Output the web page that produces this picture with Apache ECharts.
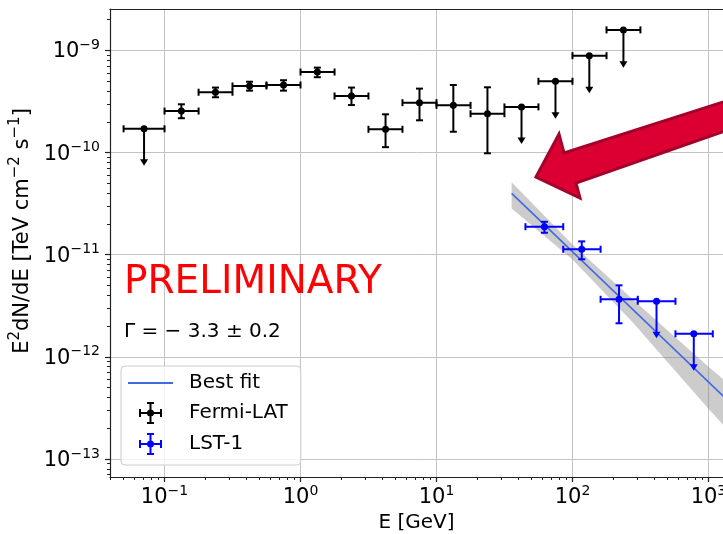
<!DOCTYPE html>
<html lang="en">
<head>
<meta charset="UTF-8">
<title>sed_lst1_fermi</title>
<script src="https://cdn.jsdelivr.net/npm/echarts@6/dist/echarts.min.js"></script>
<style>
    html, body { margin: 0; padding: 0; background: #fff; }
    #main { width: 723px; height: 534px; }
</style>
</head>
<body>
<div id="main"></div>
<script>
// ---- data (E in GeV, E^2 dN/dE in TeV cm^-2 s^-1) ----
var fermiE   = [0.0707, 0.133, 0.237, 0.422, 0.750, 1.33, 2.37, 4.22, 7.50, 13.3, 23.7, 42.2, 75.0, 133, 237];
var fermiElo = [0.05, 0.1, 0.178, 0.316, 0.562, 1.0, 1.78, 3.16, 5.62, 10, 17.8, 31.6, 56.2, 100, 178];
var fermiEhi = [0.1, 0.178, 0.316, 0.562, 1.0, 1.78, 3.16, 5.62, 10, 17.8, 31.6, 56.2, 100, 178, 316];
var fermiF   = [1.71e-10, 2.55e-10, 3.90e-10, 4.49e-10, 4.59e-10, 6.15e-10, 3.58e-10, 1.69e-10, 3.08e-10, 2.90e-10, 2.40e-10, 2.80e-10, 4.99e-10, 8.89e-10, 1.59e-9];
var fermiFlo = [7.45e-11, 2.17e-10, 3.48e-10, 4.04e-10, 4.04e-10, 5.47e-10, 2.92e-10, 1.13e-10, 2.07e-10, 1.60e-10, 9.84e-11, 1.21e-10, 2.15e-10, 3.81e-10, 6.79e-10];
var fermiFhi = [1.71e-10, 2.97e-10, 4.33e-10, 4.94e-10, 5.11e-10, 6.79e-10, 4.33e-10, 2.37e-10, 4.23e-10, 4.59e-10, 4.36e-10, 2.80e-10, 4.99e-10, 8.89e-10, 1.59e-9];
var fermiUL  = [1, 0, 0, 0, 0, 0, 0, 0, 0, 0, 0, 1, 1, 1, 1];

var lstE   = [62.2, 117, 220, 415, 780];
var lstElo = [45.1, 85.5, 161, 302, 572];
var lstEhi = [85.5, 161, 302, 572, 1076];
var lstF   = [1.88e-11, 1.13e-11, 3.66e-12, 3.50e-12, 1.68e-12];
var lstFlo = [1.64e-11, 9.02e-12, 2.13e-12, 1.52e-12, 7.31e-13];
var lstFhi = [2.10e-11, 1.35e-11, 5.01e-12, 3.50e-12, 1.68e-12];
var lstUL  = [0, 0, 0, 1, 1];

var fitE = [35.7, 1300];
var fitF = [3.99e-11, 4.06e-13];

var bandE  = [35.7, 100, 277, 1000, 1300];
var bandLo = [2.84e-11, 8.97e-12, 2.18e-12, 3.10e-13, 2.11e-13];
var bandHi = [5.12e-11, 1.26e-11, 3.66e-12, 7.98e-13, 5.96e-13];

// decade exponents used for tick labels
var xMajor = [-1, 0, 1, 2, 3];
var yMajor = [-13, -12, -11, -10, -9];

// axis ranges in log10 units
var xMin = -1.401, xMax = 3.107;
var yMin = -13.177, yMax = -8.594;

var FONT = 'DejaVu Sans';
var lg = Math.log10;

function minorOf(lo, hi) {
    var out = [];
    for (var n = Math.floor(lo); n <= Math.ceil(hi); n++) {
        for (var k = 2; k < 10; k++) {
            var v = n + lg(k);
            if (v > lo && v < hi) out.push(v);
        }
    }
    return out;
}

function powLabel(v) {
    var e = Math.round(v);
    var s = e < 0 ? '\u2212' + (-e) : '' + e;
    return '{b|10}{s|' + s + '}';
}

var richTick = {
    b: { fontSize: 21, fontFamily: FONT, color: '#000', lineHeight: 24, verticalAlign: 'bottom' },
    s: { fontSize: 14, fontFamily: FONT, color: '#000', lineHeight: 16, verticalAlign: 'top' }
};
var richName = {
    b: { fontSize: 21, fontFamily: FONT, color: '#000', lineHeight: 25, verticalAlign: 'bottom' },
    s: { fontSize: 15, fontFamily: FONT, color: '#000', lineHeight: 17, verticalAlign: 'top' }
};

function errData(E, Elo, Ehi, F, Flo, Fhi, UL) {
    return E.map(function (e, i) {
        return [lg(e), lg(F[i]), lg(Elo[i]), lg(Ehi[i]), lg(Flo[i]), lg(Fhi[i]), UL[i]];
    });
}

function errRender(color) {
    return function (params, api) {
        var c = api.coord([api.value(0), api.value(1)]);
        var xl = api.coord([api.value(2), api.value(1)])[0];
        var xr = api.coord([api.value(3), api.value(1)])[0];
        var yl = api.coord([api.value(0), api.value(4)])[1];
        var yh = api.coord([api.value(0), api.value(5)])[1];
        var cap = 3.5;
        function seg(x1, y1, x2, y2) {
            return { type: 'line', shape: { x1: x1, y1: y1, x2: x2, y2: y2 }, style: { stroke: color, lineWidth: 2 } };
        }
        var kids = [
            seg(xl, c[1], xr, c[1]),
            seg(xl, c[1] - cap, xl, c[1] + cap),
            seg(xr, c[1] - cap, xr, c[1] + cap)
        ];
        if (api.value(6) === 1) {
            kids.push(seg(c[0], c[1], c[0], yl - 4));
            kids.push({ type: 'polygon', shape: { points: [[c[0] - 4, yl - 6.5], [c[0] + 4, yl - 6.5], [c[0], yl]] }, style: { fill: color } });
        } else {
            kids.push(seg(c[0], yh, c[0], yl));
            kids.push(seg(c[0] - cap, yh, c[0] + cap, yh));
            kids.push(seg(c[0] - cap, yl, c[0] + cap, yl));
        }
        kids.push({ type: 'circle', shape: { cx: c[0], cy: c[1], r: 3.5 }, style: { fill: color } });
        return { type: 'group', children: kids };
    };
}

// legend glyphs: error-bar cross with caps and dot, and a plain line
var ebIcon = 'path://M0,10h23v2h-23z M0,7h2v8h-2z M21,7h2v8h-2z M10.5,0h2v22h-2z M8,0h7v2h-7z M8,20h7v2h-7z M8,11a3.5,3.5 0 1,1 7,0a3.5,3.5 0 1,1 -7,0z';
var lineIcon = 'path://M0,0h45v2h-45z';

var axisCol = '#222';
var gridCol = '#c4c4c4';

var chart = echarts.init(document.getElementById('main'), null, { renderer: 'canvas' });

chart.setOption({
    animation: false,
    backgroundColor: '#fff',
    grid: { left: 110, top: 9, right: 0, bottom: 57, containLabel: false, outerBoundsMode: 'none' },
    xAxis: [
        {
            type: 'value', min: xMin, max: xMax, position: 'bottom',
            axisLine: { show: true, onZero: false, lineStyle: { color: axisCol, width: 1.2 } },
            axisTick: { show: true, customValues: xMajor, length: 5, lineStyle: { color: axisCol, width: 1.2 } },
            axisLabel: { customValues: xMajor, formatter: powLabel, margin: 7, rich: richTick },
            splitLine: { show: true, lineStyle: { color: gridCol, width: 1 } },
            name: 'E [GeV]', nameLocation: 'middle', nameGap: 34,
            nameTextStyle: { fontSize: 20, fontFamily: FONT, color: '#000' }
        },
        {
            type: 'value', min: xMin, max: xMax, position: 'bottom',
            axisLine: { show: false, onZero: false },
            axisTick: { show: true, customValues: minorOf(xMin, xMax), length: 3, lineStyle: { color: axisCol, width: 1 } },
            axisLabel: { show: false },
            splitLine: { show: false }
        },
        {
            type: 'value', min: xMin, max: xMax, position: 'top',
            axisLine: { show: true, onZero: false, lineStyle: { color: axisCol, width: 1.2 } },
            axisTick: { show: false }, axisLabel: { show: false }, splitLine: { show: false }
        }
    ],
    yAxis: [
        {
            type: 'value', min: yMin, max: yMax, position: 'left',
            axisLine: { show: true, onZero: false, lineStyle: { color: axisCol, width: 1.2 } },
            axisTick: { show: true, customValues: yMajor, length: 5, lineStyle: { color: axisCol, width: 1.2 } },
            axisLabel: { customValues: yMajor, formatter: powLabel, margin: 10, rich: richTick },
            splitLine: { show: true, lineStyle: { color: gridCol, width: 1 } },
            name: '{b|E}{s|2}{b|dN/dE [TeV cm}{s|\u22122}{b| s}{s|\u22121}{b|]}',
            nameLocation: 'middle', nameGap: 74,
            nameTextStyle: { fontSize: 21, fontFamily: FONT, color: '#000', rich: richName, padding: [0, 0, 0, 24] }
        },
        {
            type: 'value', min: yMin, max: yMax, position: 'left',
            axisLine: { show: false, onZero: false },
            axisTick: { show: true, customValues: minorOf(yMin, yMax), length: 3, lineStyle: { color: axisCol, width: 1 } },
            axisLabel: { show: false },
            splitLine: { show: false }
        }
    ],
    legend: {
        orient: 'vertical', left: 121, top: 366,
        padding: [7, 13, 10, 7], itemGap: 9, itemWidth: 45, itemHeight: 22,
        backgroundColor: 'rgba(255,255,255,0.8)', borderColor: '#cccccc', borderWidth: 1, borderRadius: 4,
        textStyle: { fontSize: 20, fontFamily: FONT, color: '#000', padding: [0, 0, 0, 11] },
        itemStyle: { borderWidth: 0 },
        selectedMode: false,
        data: [
            { name: 'Best fit', icon: lineIcon },
            { name: 'Fermi-LAT', icon: ebIcon },
            { name: 'LST-1', icon: ebIcon }
        ]
    },
    graphic: [
        {
            type: 'text', x: 124, y: 283, z: 10,
            style: { text: 'PRELIMINARY', fill: '#ff0000', fontSize: 39, fontFamily: FONT, verticalAlign: 'middle' }
        },
        {
            type: 'text', x: 124, y: 332, z: 10,
            style: { text: '\u0393 = \u2212 3.3 \u00b1 0.2', fill: '#000', fontSize: 20, fontFamily: FONT, verticalAlign: 'middle' }
        },
        {
            type: 'polygon', z: 10,
            shape: { points: [[536, 177], [559, 134], [564, 153], [745, 95], [745, 124], [576, 183], [580, 198]] },
            style: { fill: '#dc0032', stroke: '#a3002b', lineWidth: 3, lineJoin: 'miter' }
        }
    ],
    series: [
        {
            name: 'band', type: 'custom', clip: true, silent: true, z: 1,
            data: bandE.map(function (e, i) { return [lg(e), lg(bandLo[i]), lg(bandHi[i])]; }),
            renderItem: function (params, api) {
                if (params.dataIndex !== 0) return;
                var up = [], dn = [];
                for (var i = 0; i < bandE.length; i++) {
                    up.push(api.coord([lg(bandE[i]), lg(bandHi[i])]));
                    dn.unshift(api.coord([lg(bandE[i]), lg(bandLo[i])]));
                }
                return { type: 'polygon', shape: { points: up.concat(dn) }, style: { fill: 'rgba(128,128,128,0.4)' } };
            }
        },
        {
            name: 'Best fit', type: 'line', symbol: 'none', clip: true, z: 3,
            data: fitE.map(function (e, i) { return [lg(e), lg(fitF[i])]; }),
            lineStyle: { color: '#4169e1', width: 1.6 },
            itemStyle: { color: '#4169e1' }
        },
        {
            name: 'Fermi-LAT', type: 'custom', z: 4,
            itemStyle: { color: '#000' },
            data: errData(fermiE, fermiElo, fermiEhi, fermiF, fermiFlo, fermiFhi, fermiUL),
            renderItem: errRender('#000')
        },
        {
            name: 'LST-1', type: 'custom', z: 4,
            itemStyle: { color: '#0000ff' },
            data: errData(lstE, lstElo, lstEhi, lstF, lstFlo, lstFhi, lstUL),
            renderItem: errRender('#0000ff')
        }
    ]
});
</script>
</body>
</html>
